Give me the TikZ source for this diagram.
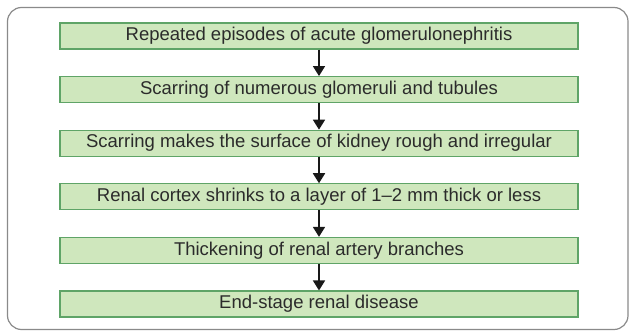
\documentclass[tikz,border=0pt]{standalone}
\usepackage{fontspec}
\setmainfont{Liberation Sans}
\usepackage{tikz}
\usetikzlibrary{arrows.meta}
\definecolor{boxfill}{HTML}{CFE7BD}
\definecolor{boxline}{HTML}{5FA467}
\definecolor{frameline}{HTML}{8A8A8A}
\definecolor{textgray}{HTML}{2B2B2B}

\begin{document}
\begin{tikzpicture}[x=1pt,y=-1pt,
  frame/.style={draw=frameline,line width=1.2pt,rounded corners=14pt},
  stage/.style={draw=boxline,line width=1.1pt,fill=boxfill,
    minimum width=518pt,minimum height=26pt,inner sep=0pt,
    text=textgray,font=\fontsize{18.5}{20}\selectfont},
  lead/.style={draw=black!90,line width=1.8pt,
    -{Triangle[width=12pt,length=10pt]}}]
\useasboundingbox (0,0) rectangle (630,331);
\draw[frame] (7.5,7.5) rectangle (628,329.5);
% six stages, top to bottom
\foreach \n/\y/\txt in {1/36/{Repeated episodes of acute glomerulonephritis},
                        2/89.6/{Scarring of numerous glomeruli and tubules},
                        3/143.2/{Scarring makes the surface of kidney rough and irregular},
                        4/196.8/{Renal cortex shrinks to a layer of 1--2 mm thick or less},
                        5/250.4/{Thickening of renal artery branches},
                        6/304/{End-stage renal disease}}
  \node[stage] (s\n) at (319,\y) {\txt};
\foreach \a/\b in {1/2,2/3,3/4,4/5,5/6}
  \draw[lead] (s\a.south) -- (s\b.north);
\end{tikzpicture}
\end{document}
